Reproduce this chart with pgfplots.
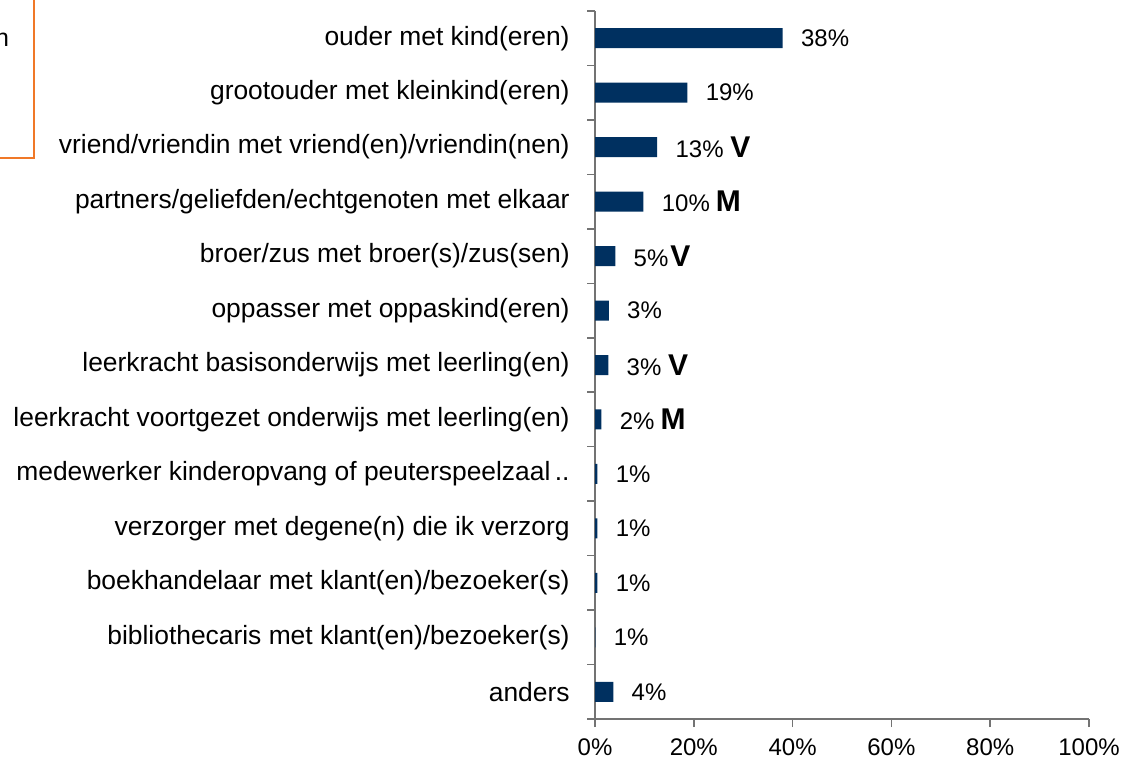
\documentclass[border=0pt]{standalone}
\usepackage{pgfplots}
\pgfplotsset{compat=1.18}
\usepackage{fontspec}
\setmainfont{Liberation Sans}
\definecolor{navy}{RGB}{0,48,96}
\definecolor{boxorange}{RGB}{240,120,40}
\begin{document}
\begin{tikzpicture}
\path[use as bounding box] (0,0) rectangle (561pt,384.5pt);
\draw[boxorange, line width=0.8pt] (-10pt,305.5pt) -- (17pt,305.5pt) -- (17pt,400pt);
\node[anchor=base east, inner sep=0pt, font=\fontsize{12.5}{14}\selectfont] at (4.7pt,361pt) {n};
\begin{axis}[
  at={(297.5pt,25pt)}, anchor=south west,
  scale only axis, width=247pt, height=354pt,
  xmin=0, xmax=100, ymin=-0.5, ymax=12.5, y dir=reverse,
  axis x line*=bottom, axis y line*=left,
  axis line style={draw=black!55, line width=0.8pt},
  xtick={0,20,40,60,80,100},
  xticklabels={0\%,20\%,40\%,60\%,80\%,100\%},
  xtick style={draw=black!55, line width=0.8pt},
  major tick length=4pt, tick align=outside,
  xticklabel style={anchor=north, inner sep=0pt, yshift=-5.5pt, font=\fontsize{12}{14}\selectfont},
  ytick={0,...,12},
  yticklabels={ouder met kind(eren),grootouder met kleinkind(eren),vriend/vriendin met vriend(en)/vriendin(nen),partners/geliefden/echtgenoten met elkaar,broer/zus met broer(s)/zus(sen),oppasser met oppaskind(eren),leerkracht basisonderwijs met leerling(en),leerkracht voortgezet onderwijs met leerling(en),medewerker kinderopvang of peuterspeelzaal\,..,verzorger met degene(n) die ik verzorg,boekhandelaar met klant(en)/bezoeker(s),bibliothecaris met klant(en)/bezoeker(s),anders},
  ytick style={draw=none},
  yticklabel style={anchor=east, inner sep=0pt, xshift=-8.5pt, font=\fontsize{13.2}{15}\selectfont},
  minor ytick={-0.5,0.5,...,12.5},
  minor tick length=4pt,
  minor y tick style={draw=black!55, line width=0.8pt},
]
\addplot[xbar, fill=navy, draw=none, bar width=10pt,
  point meta=explicit symbolic,
  nodes near coords,
  every node near coord/.append style={anchor=west, inner sep=0pt, xshift=9pt, font=\fontsize{12}{14}\selectfont, text=black}]
coordinates {
  (38.0,0) [38\%]
  (18.7,1) [19\%]
  (12.6,2) [13\% {\fontsize{15}{16}\selectfont\bfseries V}]
  (9.8,3) [10\%\hspace{3pt}{\fontsize{15}{16}\selectfont\bfseries M}]
  (4.1,4) [5\%\hspace{1pt}{\fontsize{15}{16}\selectfont\bfseries V}]
  (2.8,5) [3\%]
  (2.7,6) [3\% {\fontsize{15}{16}\selectfont\bfseries V}]
  (1.3,7) [2\%\hspace{3pt}{\fontsize{15}{16}\selectfont\bfseries M}]
  (0.5,8) [1\%]
  (0.5,9) [1\%]
  (0.5,10) [1\%]
  (0.1,11) [1\%]
  (3.7,12) [4\%]
};
\end{axis}
\end{tikzpicture}
\end{document}
